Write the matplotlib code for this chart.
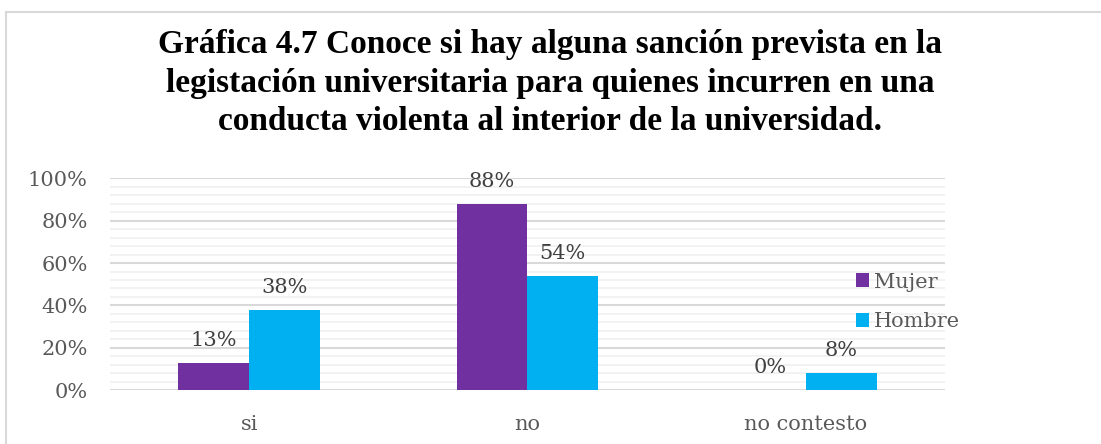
import numpy as np
import matplotlib.pyplot as plt
from matplotlib.patches import Rectangle

categories = ["si", "no", "no contesto"]
mujer = [13, 88, 0]
hombre = [38, 54, 8]
series_names = ["Mujer", "Hombre"]
colors = ["#7030A0", "#00B0F0"]
title = ("Gráfica 4.7 Conoce si hay alguna sanción prevista en la\n"
         "legistación universitaria para quienes incurren en una\n"
         "conducta violenta al interior de la universidad.")

plt.rcParams['font.family'] = ['DejaVu Serif']

fig = plt.figure(figsize=(11.01, 4.44), dpi=100)
ax = fig.add_axes([0.0999, 0.1216, 0.7584, 0.4764])

# outer chart border
fig.patches.append(Rectangle((0.005, -0.05), 1.2, 1.023, transform=fig.transFigure,
                             fill=False, edgecolor="#d9d9d9", linewidth=1.5))

x = np.arange(len(categories))
w = 0.254
ax.bar(x - w / 2, mujer, w, color=colors[0], label=series_names[0], zorder=3)
ax.bar(x + w / 2, hombre, w, color=colors[1], label=series_names[1], zorder=3)

for i in range(len(categories)):
    ax.text(x[i] - w / 2, mujer[i] + 6, f"{mujer[i]}%", ha="center", va="bottom",
            fontsize=15, color="#404040")
    ax.text(x[i] + w / 2, hombre[i] + 6, f"{hombre[i]}%", ha="center", va="bottom",
            fontsize=15, color="#404040")

ax.set_xlim(-0.5, 2.5)
ax.set_ylim(0, 100)
ax.set_yticks(np.arange(0, 101, 20))
ax.set_yticklabels([f"{v}%" for v in range(0, 101, 20)])
ax.set_yticks(np.arange(0, 101, 4), minor=True)
ax.set_xticks(x)
ax.set_xticklabels(categories)
ax.tick_params(axis="y", length=0, labelsize=15, labelcolor="#595959", pad=16)
ax.tick_params(axis="x", length=0, labelsize=15, labelcolor="#595959", pad=18)
ax.tick_params(axis="y", which="minor", length=0)
ax.grid(axis="y", which="major", color="#d9d9d9", linewidth=1.5, zorder=0)
ax.grid(axis="y", which="minor", color="#f0f0f0", linewidth=1.2, zorder=0)
for s in ax.spines.values():
    s.set_visible(False)

fig.legend(handles=ax.containers[:], labels=series_names, loc="center left",
           bbox_to_anchor=(0.76, 0.32), frameon=False, fontsize=15,
           handlelength=0.65, handleheight=0.65, handletextpad=0.25, labelspacing=1.0,
           labelcolor="#595959")

fig.text(0.5, 0.935, title, ha="center", va="top", fontsize=24, fontweight="bold",
         family="Liberation Serif", color="black", linespacing=1.32)

fig.savefig("out.png", dpi=100)
